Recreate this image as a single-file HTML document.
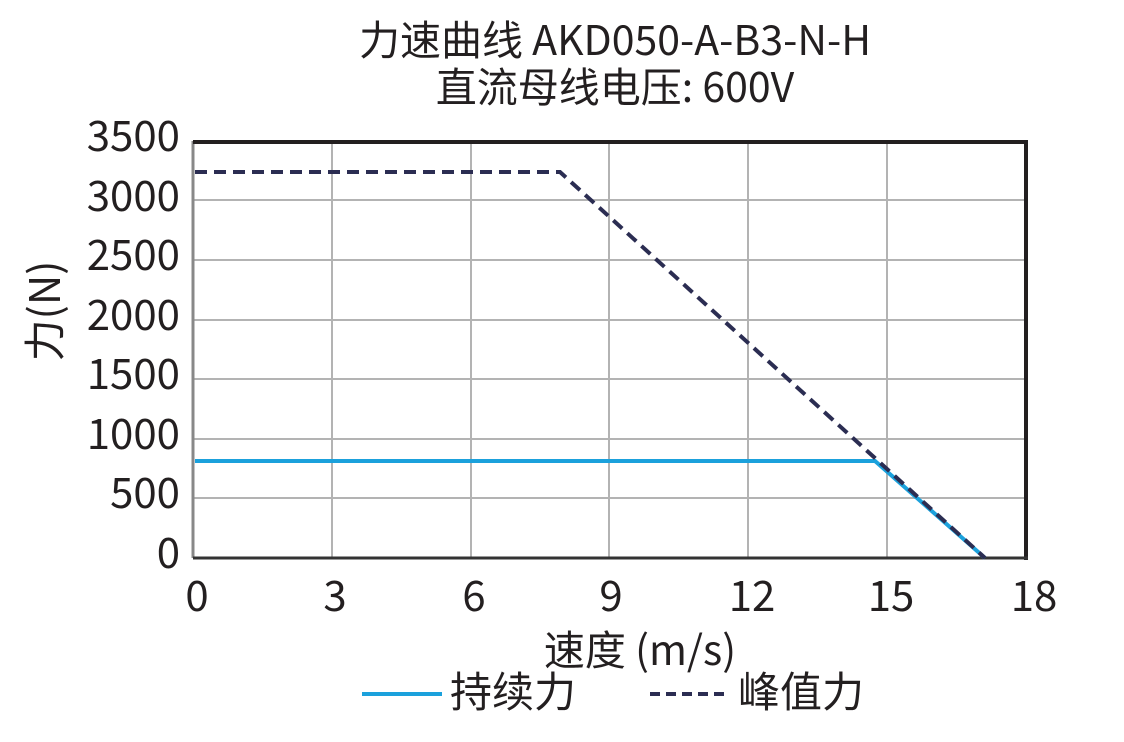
<!DOCTYPE html>
<html><head><meta charset="utf-8"><style>body{margin:0;background:#fff}</style></head><body>
<svg width="1124" height="737" xmlns="http://www.w3.org/2000/svg" font-family="Noto Sans CJK SC, Liberation Sans, sans-serif" fill="#231f20">
<text x="615" y="55" font-size="41" text-anchor="middle">力速曲线 AKD050-A-B3-N-H</text>
<text x="615" y="102" font-size="41" text-anchor="middle">直流母线电压: 600V</text>
<g stroke="#b3b3b3" stroke-width="2">
<line x1="332" y1="141" x2="332" y2="558"/><line x1="471" y1="141" x2="471" y2="558"/><line x1="609" y1="141" x2="609" y2="558"/><line x1="748" y1="141" x2="748" y2="558"/><line x1="887" y1="141" x2="887" y2="558"/>
<line x1="193" y1="200" x2="1026" y2="200"/><line x1="193" y1="260" x2="1026" y2="260"/><line x1="193" y1="320" x2="1026" y2="320"/><line x1="193" y1="379" x2="1026" y2="379"/><line x1="193" y1="439" x2="1026" y2="439"/><line x1="193" y1="498" x2="1026" y2="498"/>
</g>
<line x1="193" y1="141" x2="193" y2="558" stroke="#888" stroke-width="3"/>
<line x1="193" y1="142" x2="1028" y2="142" stroke="#231f20" stroke-width="4"/>
<line x1="1026" y1="141" x2="1026" y2="560" stroke="#231f20" stroke-width="4"/>
<line x1="193" y1="558" x2="1028" y2="558" stroke="#333" stroke-width="3"/>
<polyline points="195,461 875,461 985,558" fill="none" stroke="#1ba1dc" stroke-width="4"/>
<polyline points="195,172 560,172 985,558" fill="none" stroke="#2b2d52" stroke-width="4" stroke-dasharray="12,7"/>
<g font-size="42" text-anchor="end">
<text x="180" y="151">3500</text><text x="180" y="211">3000</text><text x="180" y="270">2500</text><text x="180" y="330">2000</text><text x="180" y="389">1500</text><text x="180" y="449">1000</text><text x="180" y="508">500</text><text x="180" y="568">0</text>
</g>
<g font-size="42" text-anchor="middle">
<text x="197" y="611">0</text><text x="335" y="611">3</text><text x="474" y="611">6</text><text x="611" y="611">9</text><text x="752" y="611">12</text><text x="891" y="611">15</text><text x="1034" y="611">18</text>
<text x="640" y="665" font-size="41">速度 (m/s)</text>
</g>
<text transform="translate(60,311) rotate(-90)" font-size="42" text-anchor="middle">力(N)</text>
<line x1="362" y1="694" x2="442" y2="694" stroke="#1ba1dc" stroke-width="4"/>
<text x="450" y="707" font-size="42">持续力</text>
<line x1="650" y1="694" x2="730" y2="694" stroke="#2b2d52" stroke-width="4" stroke-dasharray="10,6"/>
<text x="738" y="707" font-size="42">峰值力</text>
</svg>
</body></html>
